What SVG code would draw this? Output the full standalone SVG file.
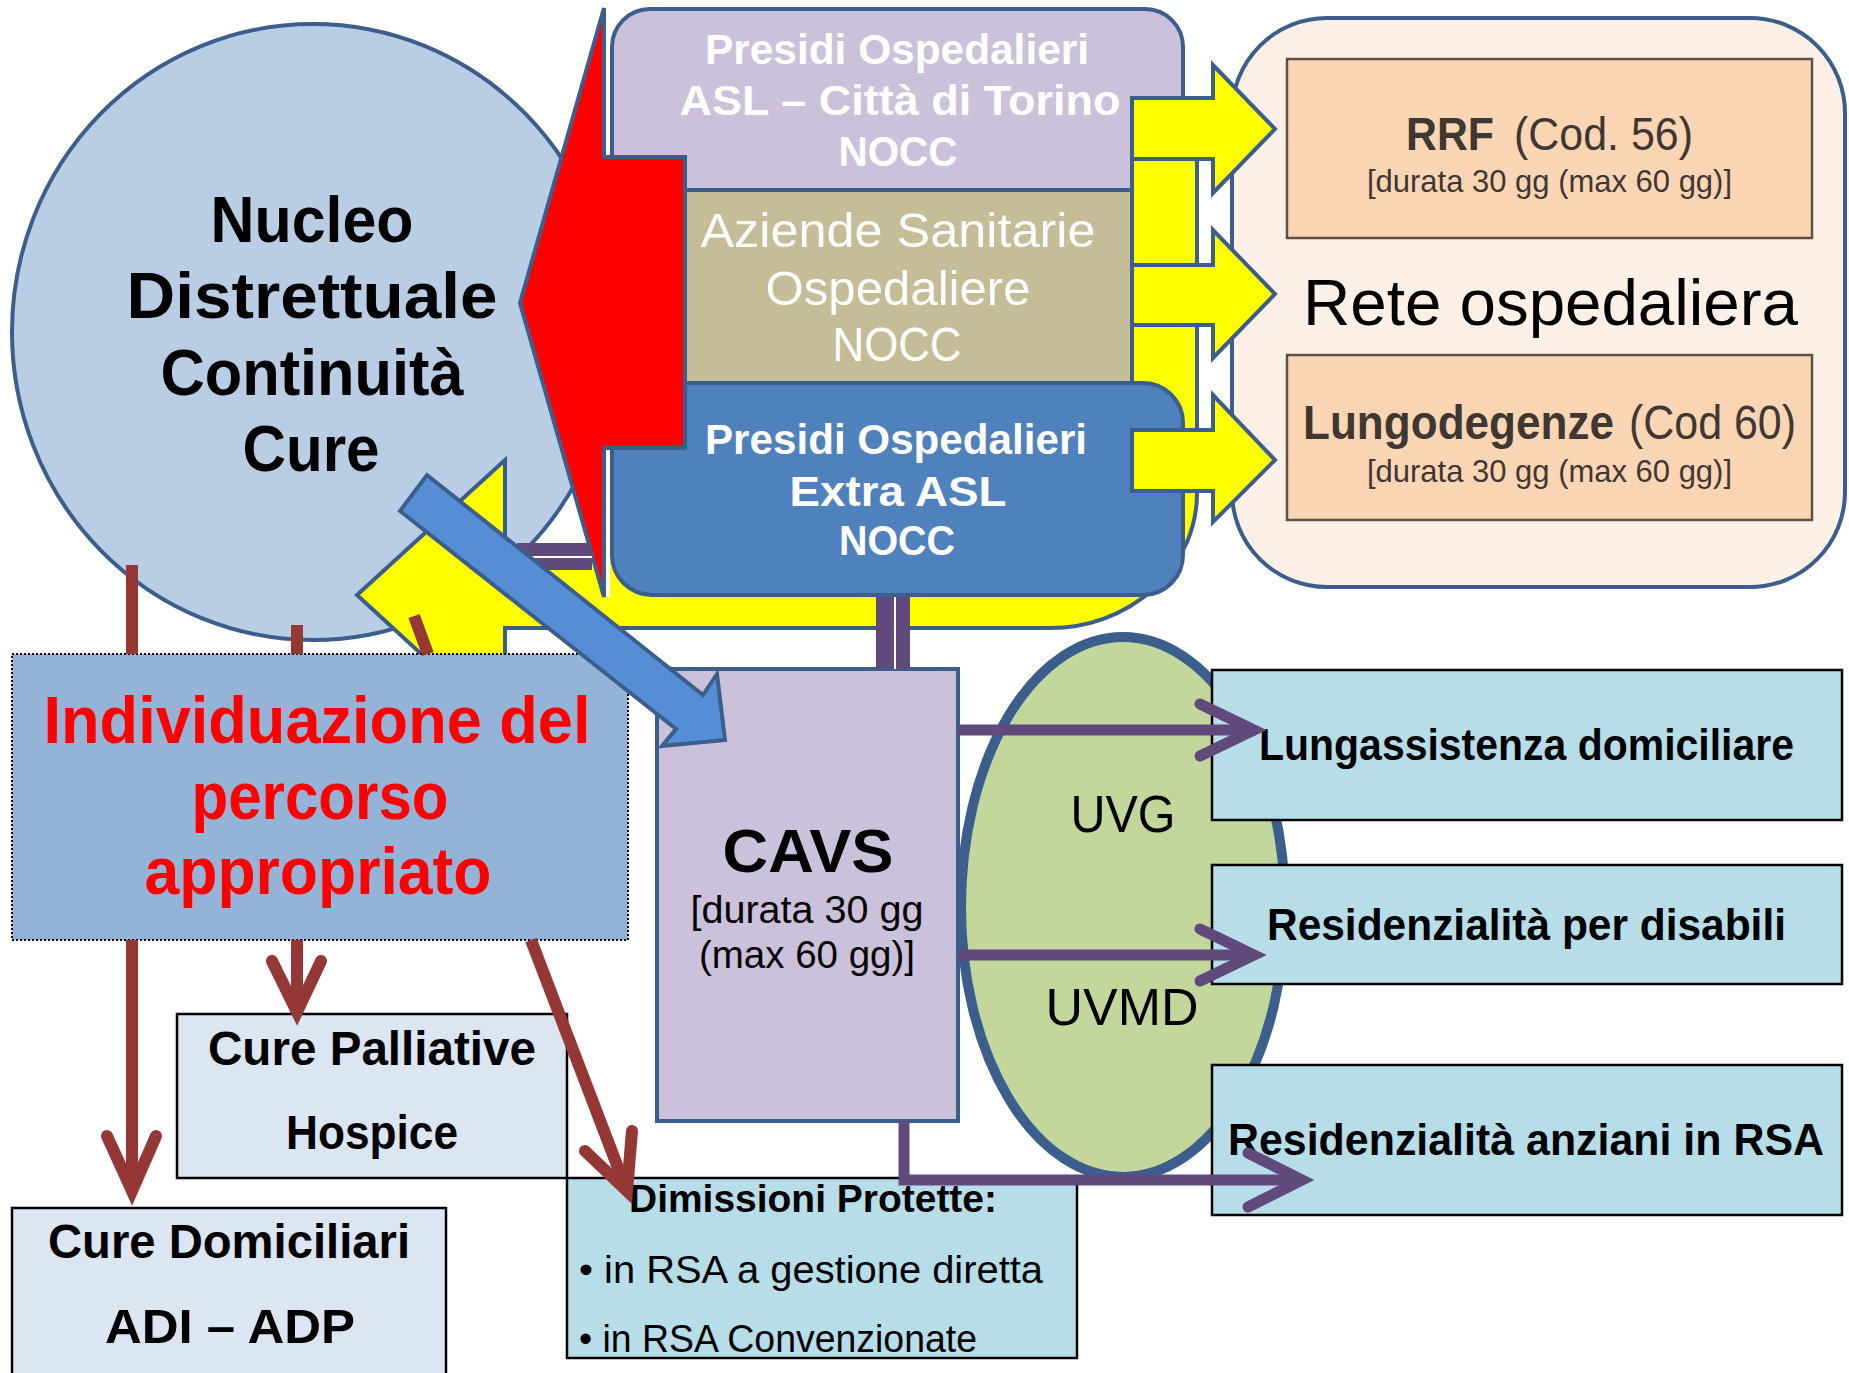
<svg xmlns="http://www.w3.org/2000/svg" width="1849" height="1373" viewBox="0 0 1849 1373">
<defs>
<style>
text{font-family:"Liberation Sans","Noto Sans","DejaVu Sans",sans-serif}
.b{font-weight:bold}
.c{text-anchor:middle}
.ol{stroke:#3B5E8C;stroke-width:4;stroke-linejoin:miter}
.yl{fill:#FFFF00;stroke:#3B5E8C;stroke-width:4;stroke-linejoin:miter}
.bx{stroke:#000;stroke-width:2.5}
.wt{fill:#FFFFFF}
.dk{fill:#3F3732}
.brn{fill:none;stroke:#953735;stroke-width:12}
.brh{fill:none;stroke:#953735;stroke-width:12;stroke-linecap:round;stroke-linejoin:miter}
.pur{fill:none;stroke:#604A7B;stroke-width:11}
.purh{fill:none;stroke:#604A7B;stroke-width:11;stroke-linecap:round;stroke-linejoin:miter}
</style>
</defs>
<rect width="1849" height="1373" fill="#FFFFFF"/>

<g id="nucleo">
<ellipse cx="313" cy="332" rx="301" ry="308" fill="#B9CDE5" class="ol"/>
<text class="b c" font-size="64" x="312" y="242" textLength="203" lengthAdjust="spacingAndGlyphs">Nucleo</text>
<text class="b c" font-size="64" x="312" y="318" textLength="371" lengthAdjust="spacingAndGlyphs">Distrettuale</text>
<text class="b c" font-size="64" x="312" y="395" textLength="303" lengthAdjust="spacingAndGlyphs">Continuità</text>
<text class="b c" font-size="64" x="311" y="471" textLength="137" lengthAdjust="spacingAndGlyphs">Cure</text>
</g>

<g id="presidi-asl">
<rect x="612" y="9" width="571" height="260" rx="38" fill="#CCC1DA" class="ol"/>
</g>
<g id="aziende-ospedaliere">
<rect x="612" y="190" width="571" height="200" fill="#C4BD97" class="ol"/>
</g>

<g id="freccia-gialla-ritorno">
<path d="M1132,100 L1197,100 L1197,493 A147,135 0 0 1 1050,628 L505,628 L505,731 L357,595 L505,460 L505,555 L1100,555 L1132,520 Z" class="yl"/>
</g>

<g id="presidi-extra">
<rect x="612" y="383" width="571" height="212" rx="40" fill="#4F81BD" class="ol"/>
<rect x="606" y="540" width="4" height="57" fill="#FFFFFF"/>
</g>

<g id="freccia-rossa">
<polygon points="520,303 604,8 604,157 685,157 685,448 604,448 604,597" fill="#FF0000" class="ol"/>
</g>

<g id="testi-presidi">
<text class="b c wt" font-size="43" x="897" y="64" textLength="384" lengthAdjust="spacingAndGlyphs">Presidi Ospedalieri</text>
<text class="b c wt" font-size="43" x="900" y="115" textLength="441" lengthAdjust="spacingAndGlyphs">ASL – Città di Torino</text>
<text class="b c wt" font-size="43" x="898" y="166" textLength="119" lengthAdjust="spacingAndGlyphs">NOCC</text>
<text class="c wt" font-size="48" x="898" y="247" textLength="395" lengthAdjust="spacingAndGlyphs">Aziende Sanitarie</text>
<text class="c wt" font-size="48" x="898" y="305" textLength="265" lengthAdjust="spacingAndGlyphs">Ospedaliere</text>
<text class="c wt" font-size="48" x="897" y="361" textLength="129" lengthAdjust="spacingAndGlyphs">NOCC</text>
<text class="b c wt" font-size="43" x="896" y="454" textLength="382" lengthAdjust="spacingAndGlyphs">Presidi Ospedalieri</text>
<text class="b c wt" font-size="43" x="898" y="506" textLength="217" lengthAdjust="spacingAndGlyphs">Extra ASL</text>
<text class="b c wt" font-size="43" x="897" y="555" textLength="116" lengthAdjust="spacingAndGlyphs">NOCC</text>
</g>

<g id="rete-ospedaliera">
<rect x="1232" y="18" width="613" height="569" rx="95" fill="#FDF1E7" class="ol"/>
<text font-size="64" x="1303" y="325" textLength="495" lengthAdjust="spacingAndGlyphs" fill="#000">Rete ospedaliera</text>
</g>
<g id="rrf">
<rect x="1287" y="59" width="525" height="179" fill="#FCD5B5" stroke="#5F5045" stroke-width="2.5"/>
<text class="dk" font-size="47" y="150"><tspan class="b" x="1406" textLength="88" lengthAdjust="spacingAndGlyphs">RRF</tspan><tspan x="1514" textLength="179" lengthAdjust="spacingAndGlyphs">(Cod. 56)</tspan></text>
<text class="dk" font-size="32" x="1367" y="192" textLength="365" lengthAdjust="spacingAndGlyphs">[durata 30 gg (max 60 gg)]</text>
</g>
<g id="lungodegenze">
<rect x="1287" y="355" width="525" height="165" fill="#FCD5B5" stroke="#5F5045" stroke-width="2.5"/>
<text class="dk" font-size="48" y="439"><tspan class="b" x="1303" textLength="311" lengthAdjust="spacingAndGlyphs">Lungodegenze</tspan><tspan x="1629" textLength="167" lengthAdjust="spacingAndGlyphs">(Cod 60)</tspan></text>
<text class="dk" font-size="32" x="1367" y="482" textLength="365" lengthAdjust="spacingAndGlyphs">[durata 30 gg (max 60 gg)]</text>
</g>

<g id="frecce-gialle">
<polygon points="1132,98 1213,98 1213,65 1275,129 1213,193 1213,159 1132,159" class="yl"/>
<polygon points="1132,265 1213,265 1213,230 1275,294 1213,358 1213,325 1132,325" class="yl"/>
<polygon points="1132,430 1213,430 1213,395 1275,460 1213,522 1213,491 1132,491" class="yl"/>
</g>

<g id="individuazione">
<rect x="12" y="654" width="616" height="286" fill="#95B3D7" stroke="#000" stroke-width="2" stroke-dasharray="2 2"/>
<text class="b c" fill="#FF0000" font-size="66" x="317" y="743" textLength="547" lengthAdjust="spacingAndGlyphs">Individuazione del</text>
<text class="b c" fill="#FF0000" font-size="66" x="320" y="819" textLength="257" lengthAdjust="spacingAndGlyphs">percorso</text>
<text class="b c" fill="#FF0000" font-size="66" x="318" y="894" textLength="347" lengthAdjust="spacingAndGlyphs">appropriato</text>
</g>

<g id="cavs">
<rect x="657" y="669" width="301" height="452" fill="#CCC1DA" class="ol"/>
<text class="b c" font-size="62" x="808" y="872" textLength="171" lengthAdjust="spacingAndGlyphs">CAVS</text>
<text class="c" font-size="38" x="807" y="923" textLength="233" lengthAdjust="spacingAndGlyphs">[durata 30 gg</text>
<text class="c" font-size="38" x="807" y="968" textLength="216" lengthAdjust="spacingAndGlyphs">(max 60 gg)]</text>
</g>

<g id="uvg-uvmd">
<ellipse cx="1123" cy="907" rx="162" ry="270" fill="#C3D69B" stroke="#3B5E8C" stroke-width="10"/>
<text class="c" font-size="52" x="1123" y="832" textLength="105" lengthAdjust="spacingAndGlyphs">UVG</text>
<text class="c" font-size="52" x="1122" y="1025" textLength="153" lengthAdjust="spacingAndGlyphs">UVMD</text>
</g>

<g id="lungassistenza">
<rect x="1212" y="670" width="630" height="150" fill="#B7DEE8" class="bx"/>
<text class="b" font-size="44" x="1259" y="760" textLength="535" lengthAdjust="spacingAndGlyphs">Lungassistenza domiciliare</text>
</g>
<g id="disabili">
<rect x="1212" y="865" width="630" height="119" fill="#B7DEE8" class="bx"/>
<text class="b" font-size="44" x="1267" y="940" textLength="519" lengthAdjust="spacingAndGlyphs">Residenzialità per disabili</text>
</g>
<g id="anziani">
<rect x="1212" y="1065" width="630" height="150" fill="#B7DEE8" class="bx"/>
<text class="b" font-size="44" x="1228" y="1155" textLength="596" lengthAdjust="spacingAndGlyphs">Residenzialità anziani in RSA</text>
</g>

<g id="cure-palliative">
<rect x="177" y="1014" width="390" height="164" fill="#DCE6F2" class="bx"/>
<text class="b c" font-size="48" x="372" y="1065" textLength="328" lengthAdjust="spacingAndGlyphs">Cure Palliative</text>
<text class="b c" font-size="48" x="372" y="1149" textLength="172" lengthAdjust="spacingAndGlyphs">Hospice</text>
</g>
<g id="cure-domiciliari">
<rect x="12" y="1208" width="434" height="185" fill="#DCE6F2" class="bx"/>
<text class="b c" font-size="48" x="229" y="1258" textLength="362" lengthAdjust="spacingAndGlyphs">Cure Domiciliari</text>
<text class="b c" font-size="48" x="230" y="1343" textLength="250" lengthAdjust="spacingAndGlyphs">ADI – ADP</text>
</g>
<g id="dimissioni">
<rect x="567" y="1178" width="510" height="180" fill="#B7DEE8" class="bx"/>
<text class="b" font-size="38" x="629" y="1212" textLength="368" lengthAdjust="spacingAndGlyphs">Dimissioni Protette:</text>
<text font-size="38" x="579" y="1283" textLength="464" lengthAdjust="spacingAndGlyphs">• in RSA a gestione diretta</text>
<text font-size="38" x="579" y="1352" textLength="398" lengthAdjust="spacingAndGlyphs">• in RSA Convenzionate</text>
</g>

<g id="connettori">
<rect x="517" y="543" width="75" height="27" fill="#604A7B"/>
<line x1="517" y1="557" x2="592" y2="557" stroke="#FFFFFF" stroke-width="2"/>
<rect x="876" y="597" width="34" height="72" fill="#604A7B"/>
<line x1="895" y1="597" x2="895" y2="669" stroke="#FFFFFF" stroke-width="2"/>
<line x1="132" y1="565" x2="132" y2="654" class="brn"/>
<line x1="132" y1="940" x2="132" y2="1186" class="brn"/>
<polyline points="107,1136 132,1191 156,1136" class="brh"/>
<line x1="297" y1="625" x2="297" y2="654" class="brn"/>
<line x1="297" y1="940" x2="297" y2="1006" class="brn"/>
<polyline points="272,961 297,1012 321,961" class="brh"/>
<line x1="414" y1="616" x2="428" y2="654" class="brn"/>
<line x1="531" y1="940" x2="625" y2="1186" class="brn"/>
<polyline points="585,1151 627,1191 632,1131" class="brh"/>
<line x1="958" y1="730" x2="1248" y2="730" class="pur"/>
<polyline points="1200,704 1254,730 1200,756" class="purh"/>
<line x1="958" y1="955" x2="1248" y2="955" class="pur"/>
<polyline points="1200,929 1254,955 1200,981" class="purh"/>
<polyline points="904,1121 904,1180 1296,1180" class="pur"/>
<polyline points="1248,1153 1302,1180 1248,1207" class="purh"/>
</g>

<g id="freccia-blu">
<polygon points="427,475 703,695 717,674 725,740 662,746 676,729 400,511" fill="#558ED5" stroke="#3B5E8C" stroke-width="4" stroke-linejoin="miter"/>
</g>
</svg>
